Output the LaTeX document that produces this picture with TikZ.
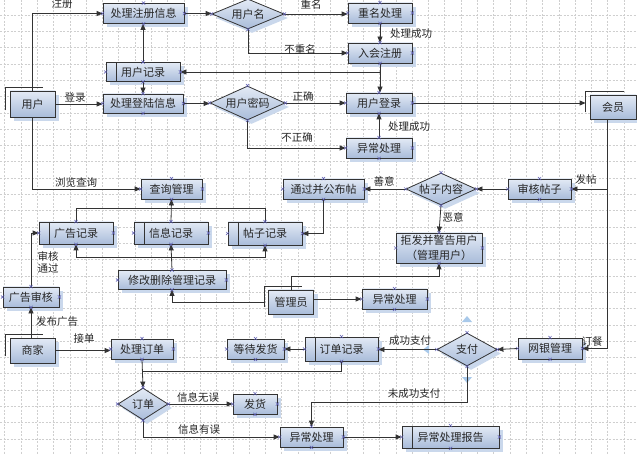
\documentclass[tikz,border=0pt]{standalone}
\usepackage{fontspec}
\setmainfont{Noto Sans CJK SC}
\usetikzlibrary{shapes.geometric,shadows,arrows.meta,calc}
\definecolor{boxtop}{HTML}{E3EAF5}
\definecolor{boxbot}{HTML}{A9BCDA}
\definecolor{shadowc}{HTML}{CAD8EC}
\definecolor{edgec}{HTML}{333333}
\definecolor{gridc}{HTML}{CFCFCF}
\definecolor{xmc}{HTML}{5B5BB0}
\definecolor{selc}{HTML}{A9C9EA}
\newcommand\zwbox[1]{\hbox to 0pt{\hss#1\hss}}
\newcommand\cpmarks[1]{\foreach \a in {north,south,east,west}{\draw[xmk] (#1.\a) +(-1.6,-1.6) -- +(1.6,1.6) +(-1.6,1.6) -- +(1.6,-1.6);}}
\newcommand\extframe[1]{\draw[edgec,line width=0.7pt] ($(#1.south west)+(-4,-7)$) -- ($(#1.north west)+(-4,-3)$) -- ($(#1.north east)+(-12,-3)$);}
\begin{document}
\begin{tikzpicture}[x=1pt,y=-1pt,
  bx/.style={draw=edgec, line width=0.8pt, top color=boxtop, bottom color=boxbot, inner sep=0pt,
    font=\fontsize{11}{15}\selectfont, text=black!85,
    drop shadow={shadow xshift=4pt, shadow yshift=-4pt, fill=shadowc, opacity=1}},
  pbox/.style={bx},
  ebox/.style={bx},
  rbox/.style={bx, path picture={\draw[edgec, line width=0.6pt] ([xshift=10pt]path picture bounding box.north west) -- ([xshift=10pt]path picture bounding box.south west);}},
  dbox/.style={bx, diamond},
  lbl/.style={font=\fontsize{10.5}{12}\selectfont, inner sep=0pt, text=black!85},
  ln/.style={draw=edgec, line width=0.8pt},
  arw/.style={-{Triangle[length=6pt,width=5pt]}},
  darw/.style={{Triangle[length=6pt,width=5pt]}-{Triangle[length=6pt,width=5pt]}},
  xmk/.style={draw=xmc, line width=0.5pt},
]
\useasboundingbox (0,0) rectangle (637,454);
\fill[white] (0,0) rectangle (637,454);
% grid
\foreach \i in {0,...,38} {\draw[gridc, line width=0.4pt, dash pattern=on 2pt off 1.5pt] (4.5+\i*16.3,0) -- (4.5+\i*16.3,454);}
\foreach \j in {0,...,27} {\draw[gridc, line width=0.4pt, dash pattern=on 2pt off 1.5pt] (0,15+\j*16.3-16.3) -- (637,15+\j*16.3-16.3);}

% nodes
\node[pbox, minimum width=81, minimum height=20] (reginfo) at (143.5,13.5) {处理注册信息};
\node[dbox, minimum width=72, minimum height=30] (uname) at (248,14) {\zwbox{用户名}};
\node[pbox, minimum width=64, minimum height=20] (dup) at (380,13) {重名处理};
\node[pbox, minimum width=64, minimum height=20] (join) at (380,53) {入会注册};
\node[rbox, minimum width=74, minimum height=19] (urec) at (143,72) {用户记录};
\node[pbox, minimum width=80, minimum height=19] (logininfo) at (143,103.5) {处理登陆信息};
\node[ebox, minimum width=45, minimum height=26] (user) at (32.5,104) {用户};
\node[dbox, minimum width=75, minimum height=34] (upwd) at (247.5,103) {\zwbox{用户密码}};
\node[pbox, minimum width=66, minimum height=20] (login) at (379,103) {用户登录};
\node[pbox, minimum width=66, minimum height=20] (err1) at (379,148) {异常处理};
\node[ebox, minimum width=46, minimum height=24] (member) at (613,107) {会员};
\node[pbox, minimum width=63, minimum height=20] (audit) at (539.5,189) {审核帖子};
\node[dbox, minimum width=70, minimum height=32] (content) at (441,189) {\zwbox{帖子内容}};
\node[pbox, minimum width=81, minimum height=20] (publish) at (323.5,189) {通过并公布帖};
\node[pbox, minimum width=86, minimum height=30, align=center] (reject) at (439,248) {拒发并警告用户\\（管理用户）};
\node[rbox, minimum width=74, minimum height=23] (postrec) at (265,233.5) {帖子记录};
\node[rbox, minimum width=74, minimum height=22] (inforec) at (171,233) {信息记录};
\node[rbox, minimum width=74, minimum height=22] (adrec) at (76,233) {广告记录};
\node[pbox, minimum width=61, minimum height=20] (query) at (171.5,189) {查询管理};
\node[pbox, minimum width=108, minimum height=19] (modify) at (172,280) {修改删除管理记录};
\node[ebox, minimum width=45, minimum height=24] (admin) at (291,302) {管理员};
\node[pbox, minimum width=65, minimum height=20] (err2) at (394.5,299) {异常处理};
\node[ebox, minimum width=45, minimum height=25] (merchant) at (32.5,350.5) {商家};
\node[pbox, minimum width=56, minimum height=20] (adaudit) at (31,297) {广告审核};
\node[pbox, minimum width=62, minimum height=20] (order) at (142,349) {处理订单};
\node[dbox, minimum width=50, minimum height=32] (orderdia) at (143,404) {\zwbox{订单}};
\node[pbox, minimum width=44, minimum height=20] (ship) at (255,404) {发货};
\node[pbox, minimum width=63, minimum height=20] (err3) at (311.5,437) {异常处理};
\node[rbox, minimum width=97, minimum height=22] (report) at (450.5,437) {异常处理报告};
\node[dbox, minimum width=60, minimum height=33] (pay) at (467,349.5) {\zwbox{支付}};
\node[pbox, minimum width=64, minimum height=21] (bank) at (550,348.5) {网银管理};
\node[rbox, minimum width=73, minimum height=24] (orec) at (341.5,349) {订单记录};
\node[pbox, minimum width=57, minimum height=20] (wait) at (255.5,349) {等待发货};

% external entity frames
\extframe{user}
\extframe{member}
\extframe{admin}
\extframe{merchant}

% selection indicators around 支付
\fill[selc] (462,322) -- (467,316) -- (472,322) -- cycle;
\fill[selc] (462,377) -- (467,383) -- (472,377) -- cycle;
\fill[selc] (429,345) -- (423,349.5) -- (429,354) -- cycle;

% connectors
\draw[ln,arw] (user.north) |- (reginfo.west);
\draw[ln,arw] (user.east) -- (user.east -| logininfo.west);
\draw[ln,arw] (user.south) |- (query.west);
\draw[ln,arw] (reginfo.east) -- (reginfo.east -| uname.west);
\draw[ln,arw] (uname.east) -- (uname.east -| dup.west);
\draw[ln,arw] (uname.south) |- (join.west);
\draw[ln,arw] (dup.south) -- (join.north);
\draw[ln,arw] (join.south) -- (join.south |- login.north);
\draw[ln,arw] (join.south) |- (urec.east);
\draw[ln,arw] (urec.north) -- (urec.north |- reginfo.south);
\draw[ln,arw] (urec.south) -- (urec.south |- logininfo.north);
\draw[ln,arw] (logininfo.east) -- (logininfo.east -| upwd.west);
\draw[ln,arw] (upwd.east) -- (upwd.east -| login.west);
\draw[ln,arw] (upwd.south) |- (err1.west);
\draw[ln,arw] (err1.north) -- (login.south);
\draw[ln,arw] (login.east) -- ([xshift=-4pt]login.east -| member.west);
\coordinate (mdrop) at ([xshift=-6pt]member.south);
\draw[ln,arw] (mdrop) |- (audit.east);
\draw[ln,arw] (mdrop) |- (bank.east);
\draw[ln,arw] (audit.west) -- (content.east);
\draw[ln,arw] (content.west) -- (publish.east);
\draw[ln,arw] (content.south) -- (reject.north);
\draw[ln,arw] (publish.south) |- (postrec.east);
\draw[ln,arw] (inforec.north) -- (query.south);
\draw[ln] (adrec.north) -- ++(0,-13) -| (postrec.north);
\draw[ln,darw] (adrec.south) -- ++(0,13) -| (postrec.south);
\draw[ln,arw] (modify.north) -- (inforec.south);
\draw[ln,arw] ([xshift=-4pt]admin.west) -| (modify.south);
\draw[ln,arw] (admin.north) -- ++(0,-13) -| (reject.south);
\draw[ln,arw] (err2.west -| admin.east) -- (err2.west);
\draw[ln,arw] (adaudit.south |- merchant.north) -- (adaudit.south);
\draw[ln,arw] (adaudit.north) |- (adrec.west);
\draw[ln,arw] (merchant.east) -- (merchant.east -| order.west);
\draw[ln,arw] (order.south) -- (orderdia.north);
\draw[ln] (orec.south) |- ($(order.south)+(0,12)$);
\draw[ln,arw] (orec.west) -- (wait.east);
\draw[ln,arw] (pay.west) -- (pay.west -| orec.east);
\draw[ln,arw] (bank.west) -- (pay.east);
\draw[ln,arw] (pay.south) -- ++(0,36) -| (err3.north);
\draw[ln,arw] (orderdia.east) -- (ship.west);
\draw[ln,arw] (orderdia.south) |- (err3.west);
\draw[ln,arw] (err3.east) -- (report.west);

% labels
\node[lbl] (t1) at (62,4) {注册};
\node[lbl] (t2) at (75,98) {登录};
\node[lbl] (t3) at (76,183) {浏览查询};
\node[lbl] (t4) at (311,4) {重名};
\node[lbl] (t5) at (300,49) {不重名};
\node[lbl] (t6) at (411,34) {处理成功};
\node[lbl] (t7) at (303,97) {正确};
\node[lbl] (t8) at (297,138) {不正确};
\node[lbl] (t9) at (409,127) {处理成功};
\node[lbl] (t10) at (586,180) {发帖};
\node[lbl] (t11) at (384,181) {善意};
\node[lbl] (t12) at (453,217) {恶意};
\node[lbl, align=left] (t13) at (48,262) {审核\\通过};
\node[lbl] (t14) at (57,322) {发布广告};
\node[lbl] (t15) at (84,339) {接单};
\node[lbl] (t16) at (198,397) {信息无误};
\node[lbl] (t17) at (199,429) {信息有误};
\node[lbl] (t18) at (410,341) {成功支付};
\node[lbl] (t19) at (414,394) {未成功支付};
\node[lbl] (t20) at (592,341) {订餐};

% connection point marks
\foreach \n in {reginfo,uname,dup,join,urec,logininfo,upwd,login,err1,audit,content,publish,reject,postrec,inforec,adrec,query,modify,err2,adaudit,order,orderdia,ship,err3,report,pay,bank,orec,wait} {\cpmarks{\n}}
\end{tikzpicture}
\end{document}
